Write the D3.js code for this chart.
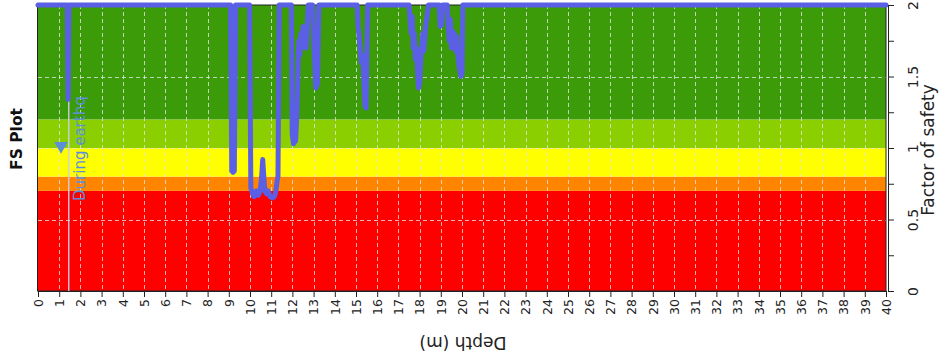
<!DOCTYPE html>
<html>
<head>
<meta charset="utf-8">
<script src="https://cdn.jsdelivr.net/npm/d3@7"></script>
<style>
  html, body { margin: 0; padding: 0; background: #fff; }
  svg { display: block; font-family: "DejaVu Sans", Verdana, sans-serif; }
</style>
</head>
<body>
<svg id="chart" width="944" height="353"></svg>
<script>
// Axis ticks
const depthTicks = d3.range(0, 41);
const fsTicks = [0, 0.25, 0.5, 0.75, 1, 1.25, 1.5, 1.75, 2];
const fsGrid = [0.5, 1, 1.5];

// Factor-of-safety zones (lower/upper limits) and their colours
const zoneLimits = [0, 0.7, 0.8, 1.0, 1.2, 2];
const zoneColors = ["#fe0000", "#ff8400", "#ffff00", "#8bcf00", "#3b9b08"];

// Ground water table depth (m)
const waterTable = 1.45;

// FS profile during earthquake (values capped at 2)
const depth = [
  0, 1.38, 1.42, 1.46,
  9.08, 9.14, 9.2, 9.26, 9.32,
  9.98, 10.04, 10.12, 10.2, 10.3, 10.4, 10.48, 10.55, 10.6, 10.65, 10.7,
  10.78, 10.85, 10.95, 11.05, 11.15, 11.22, 11.28, 11.32, 11.38,
  11.95, 11.99, 12.05, 12.15, 12.2, 12.24, 12.27, 12.3, 12.35, 12.4, 12.45,
  12.5, 12.55, 12.6, 12.65, 12.7, 12.75,
  12.95, 13.02, 13.1, 13.18, 13.25,
  15.05, 15.1, 15.15, 15.2, 15.25, 15.3, 15.35, 15.42, 15.47, 15.5, 15.55,
  17.5, 17.55, 17.6, 17.65, 17.7, 17.75, 17.8, 17.85, 17.9, 17.95, 18.0,
  18.05, 18.1, 18.15, 18.2, 18.28, 18.35, 18.42,
  18.92, 18.97, 19.03, 19.08,
  19.3, 19.35, 19.4, 19.45, 19.5, 19.55, 19.6, 19.65, 19.7, 19.75, 19.8,
  19.88, 19.95, 20.0, 20.04,
  40
];
const fs = [
  2, 2, 1.34, 2,
  2, 0.84, 0.83, 0.84, 2,
  2, 0.72, 0.68, 0.66, 0.70, 0.67, 0.70, 0.80, 0.92, 0.80, 0.70,
  0.68, 0.70, 0.66, 0.65, 0.66, 0.70, 0.77, 0.80, 2,
  2, 1.10, 1.03, 1.05, 1.20, 1.40, 1.60, 1.75, 1.65, 1.80, 1.70,
  1.85, 1.75, 1.82, 1.70, 1.85, 2,
  2, 1.70, 1.42, 1.45, 2,
  2, 1.85, 1.78, 1.70, 1.60, 1.65, 1.55, 1.30, 1.28, 1.50, 2,
  2, 1.90, 1.80, 1.92, 1.70, 1.80, 1.62, 1.70, 1.55, 1.42, 1.45,
  1.60, 1.70, 1.80, 1.68, 1.85, 1.92, 2,
  2, 1.85, 1.86, 2,
  2, 1.85, 1.75, 1.90, 1.70, 1.82, 1.72, 1.80, 1.68, 1.78, 1.65,
  1.55, 1.50, 1.52, 2,
  2
];

const legendLabel = "During earthq";
const titleText = "FS Plot";
const xLabel = "Depth (m)";
const yLabel = "Factor of safety";

const svg = d3.select("#chart");

const x = d3.scaleLinear().domain([0, 40]).range([38, 886]);
const y = d3.scaleLinear().domain([0, 2]).range([291, 5]);

// Coloured FS zones
const zones = d3.range(zoneColors.length).map(i => ({ lo: zoneLimits[i], hi: zoneLimits[i + 1], color: zoneColors[i] }));
svg.append("g").selectAll("rect").data(zones).join("rect")
  .attr("x", x(0))
  .attr("width", x(40) - x(0))
  .attr("y", d => y(d.hi))
  .attr("height", d => y(d.lo) - y(d.hi))
  .attr("fill", d => d.color);

// Dashed grid
const grid = svg.append("g")
  .attr("stroke", "rgba(225,225,225,0.8)")
  .attr("stroke-width", 1)
  .attr("stroke-dasharray", "4,3");
grid.selectAll("line.v").data(depthTicks.filter(d => d > 0 && d < 40)).join("line")
  .attr("class", "v")
  .attr("x1", d => Math.round(x(d)) + 0.5).attr("x2", d => Math.round(x(d)) + 0.5)
  .attr("y1", y(2)).attr("y2", y(0));
grid.selectAll("line.h").data(fsGrid).join("line")
  .attr("class", "h")
  .attr("x1", x(0)).attr("x2", x(40))
  .attr("y1", d => Math.round(y(d)) + 0.5).attr("y2", d => Math.round(y(d)) + 0.5);

// Plot frame
svg.append("rect")
  .attr("x", x(0) - 0.5).attr("y", y(2))
  .attr("width", x(40) - x(0) + 0.5).attr("height", y(0) - y(2))
  .attr("fill", "none").attr("stroke", "#222").attr("stroke-width", 1);

// Water table marker
svg.append("line")
  .attr("x1", x(waterTable)).attr("x2", x(waterTable))
  .attr("y1", y(2)).attr("y2", y(0))
  .attr("stroke", "rgba(205,205,240,0.9)").attr("stroke-width", 1.5);

// FS profile
const pts = depth.map((d, i) => [d, fs[i]]);
svg.append("path")
  .datum(pts)
  .attr("fill", "none")
  .attr("stroke", "#5a5fe6")
  .attr("stroke-width", 5)
  .attr("stroke-linejoin", "round")
  .attr("stroke-linecap", "round")
  .attr("d", d3.line().x(d => x(d[0])).y(d => y(d[1])));

// Depth axis (bottom)
const xAxis = svg.append("g")
  .attr("transform", `translate(0,${y(0)})`)
  .call(d3.axisBottom(x).tickValues(depthTicks).tickSize(6).tickSizeOuter(0).tickFormat(d3.format("d")));
xAxis.select(".domain").attr("stroke", "#222");
xAxis.selectAll(".tick line").attr("stroke", "#222");
xAxis.selectAll(".tick text")
  .attr("transform", "rotate(-90)")
  .attr("x", -8).attr("y", 0).attr("dy", "0.35em")
  .style("text-anchor", "end")
  .style("font-size", "12.5px")
  .style("font-family", "'DejaVu Sans', Verdana, sans-serif")
  .attr("fill", "#222");

// FS axis (right)
const yAxis = svg.append("g")
  .attr("transform", `translate(888,0)`)
  .call(d3.axisRight(y).tickValues(fsTicks).tickSize(6).tickSizeOuter(0)
    .tickFormat(d => (d * 2) % 1 === 0 ? d3.format("")(d) : ""));
yAxis.select(".domain").attr("stroke", "#222");
yAxis.selectAll(".tick line").attr("stroke", "#222");
yAxis.selectAll(".tick text")
  .attr("transform", "rotate(-90)")
  .attr("x", 0).attr("y", 25).attr("dy", "0.35em")
  .style("text-anchor", "middle")
  .style("font-size", "14px")
  .style("font-family", "'DejaVu Sans', Verdana, sans-serif")
  .attr("fill", "#222");

// Axis titles
svg.append("text")
  .attr("transform", "translate(463,343) rotate(180)")
  .attr("dy", "0.35em")
  .attr("text-anchor", "middle")
  .attr("font-size", 17)
  .attr("fill", "#222")
  .text(xLabel);

svg.append("text")
  .attr("transform", "translate(928,150) rotate(-90)")
  .attr("dy", "0.35em")
  .attr("text-anchor", "middle")
  .attr("font-size", 17)
  .attr("fill", "#222")
  .text(yLabel);

svg.append("text")
  .attr("transform", "translate(17,139) rotate(-90)")
  .attr("dy", "0.35em")
  .attr("text-anchor", "middle")
  .attr("font-size", 15.5)
  .attr("font-weight", "bold")
  .attr("fill", "#111")
  .text(titleText);

// Legend
svg.append("path")
  .attr("transform", "translate(61,146) rotate(180)")
  .attr("d", d3.symbol(d3.symbolTriangle, 80)())
  .attr("fill", "#5b8fd8");
svg.append("text")
  .attr("transform", "translate(85,201) rotate(-90)")
  .attr("text-anchor", "start")
  .attr("font-size", 15)
  .attr("fill", "#5b8fd8")
  .text(legendLabel);
</script>
</body>
</html>
